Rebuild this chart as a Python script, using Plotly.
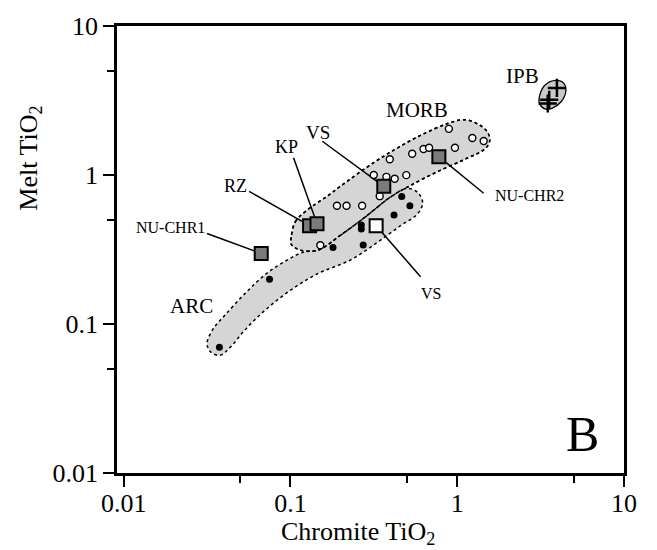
import math
import plotly.graph_objects as go

# ---------------- data ----------------
# MORB glass/chromite pairs (open circles)
morb_x = [0.891, 1.232, 1.441, 0.969, 0.628, 0.678, 0.537, 0.394, 0.316, 0.376, 0.422, 0.495, 0.343, 0.190, 0.217, 0.269, 0.151]
morb_y = [2.04, 1.772, 1.692, 1.522, 1.493, 1.522, 1.390, 1.276, 1.00, 0.972, 0.943, 0.998, 0.721, 0.622, 0.622, 0.622, 0.3375]

# ARC pairs (filled circles)
arc_x = [0.465, 0.520, 0.418, 0.266, 0.266, 0.273, 0.180, 0.0749, 0.0375]
arc_y = [0.717, 0.622, 0.538, 0.461, 0.434, 0.339, 0.326, 0.200, 0.0697]

# IPB (crosses)
ipb_x = [3.96, 3.56, 3.49]
ipb_y = [3.84, 3.20, 3.02]

# Calculated melts (grey squares)
sample_names = ["NU-CHR1", "RZ", "KP", "VS", "NU-CHR2"]
sample_x = [0.0668, 0.1302, 0.1443, 0.3627, 0.776]
sample_y = [0.2977, 0.457, 0.4713, 0.839, 1.328]

# VS (white square)
vs2_x = [0.3264]
vs2_y = [0.457]

# Field outlines
morb_field_x = [0.101, 0.107, 0.124, 0.166, 0.214, 0.302, 0.426, 0.603, 0.876, 1.108, 1.345, 1.523,
                1.565, 1.461, 1.123, 0.762, 0.525, 0.398, 0.282, 0.199, 0.147, 0.115, 0.101, 0.101]
morb_field_y = [0.381, 0.486, 0.574, 0.721, 0.891, 1.171, 1.493, 1.845, 2.214, 2.352, 2.181, 1.931,
                1.685, 1.493, 1.282, 1.053, 0.851, 0.710, 0.524, 0.393, 0.313, 0.313, 0.343, 0.381]

arc_field_x = [0.147, 0.199, 0.282, 0.398, 0.503, 0.586, 0.620, 0.578, 0.457, 0.332, 0.229, 0.145, 0.0997,
               0.0706, 0.0535, 0.0435, 0.0379, 0.0334, 0.0316, 0.0348, 0.0406, 0.0535, 0.0716, 0.0957, 0.1193, 0.147]
arc_field_y = [0.313, 0.393, 0.524, 0.710, 0.814, 0.754, 0.648, 0.548, 0.457, 0.353, 0.269, 0.217, 0.168,
               0.124, 0.0916, 0.0697, 0.0617, 0.0646, 0.0741, 0.0944, 0.115, 0.1605, 0.2174, 0.2689, 0.3034, 0.313]

ipb_field_x = [3.902, 4.358, 4.481, 4.182, 3.692, 3.352, 3.107, 3.128, 3.352, 3.902]
ipb_field_y = [4.315, 4.123, 3.651, 3.091, 2.801, 2.780, 3.045, 3.437, 4.001, 4.315]

# Leader-line label ends (data units)
leader_x = [0.0316, 0.0565, 0.1044, 0.1553, 1.441]
leader_y = [0.4047, 0.777, 1.308, 1.685, 0.754]
vs2_leader_x = [0.6026]
vs2_leader_y = [0.2077]

# ---------------- figure ----------------
FONT = "Liberation Serif, Times New Roman, serif"
FIELD_FILL = "#d5d5d5"

fig = go.Figure()

# fields
fig.add_trace(go.Scatter(x=morb_field_x, y=morb_field_y, mode="lines", fill="toself",
                         fillcolor=FIELD_FILL, line=dict(color="black", width=1.5, dash="dot", shape="spline"),
                         hoverinfo="skip"))
fig.add_trace(go.Scatter(x=arc_field_x, y=arc_field_y, mode="lines", fill="toself",
                         fillcolor=FIELD_FILL, line=dict(color="black", width=1.5, dash="dot", shape="spline"),
                         hoverinfo="skip"))
# re-draw MORB outline on top so both dotted outlines are visible
fig.add_trace(go.Scatter(x=morb_field_x, y=morb_field_y, mode="lines",
                         line=dict(color="black", width=1.5, dash="dot", shape="spline"),
                         hoverinfo="skip"))
fig.add_trace(go.Scatter(x=ipb_field_x, y=ipb_field_y, mode="lines", fill="toself",
                         fillcolor="#cacaca", line=dict(color="black", width=1.3, shape="spline"),
                         hoverinfo="skip"))

# leader lines
for i in range(len(sample_x)):
    fig.add_trace(go.Scatter(x=[leader_x[i], sample_x[i]], y=[leader_y[i], sample_y[i]], mode="lines",
                             line=dict(color="black", width=1.5), hoverinfo="skip"))
fig.add_trace(go.Scatter(x=[vs2_leader_x[0], vs2_x[0]], y=[vs2_leader_y[0], vs2_y[0]], mode="lines",
                         line=dict(color="black", width=1.5), hoverinfo="skip"))

# points
fig.add_trace(go.Scatter(x=morb_x, y=morb_y, mode="markers",
                         marker=dict(symbol="circle", size=7, color="white", line=dict(color="black", width=1.4))))
fig.add_trace(go.Scatter(x=arc_x, y=arc_y, mode="markers",
                         marker=dict(symbol="circle", size=7, color="black", line=dict(color="black", width=0))))
fig.add_trace(go.Scatter(x=ipb_x, y=ipb_y, mode="markers",
                         marker=dict(symbol="cross-thin-open", size=13, color="black", line=dict(color="black", width=2.5))))
fig.add_trace(go.Scatter(x=sample_x, y=sample_y, mode="markers", text=sample_names,
                         marker=dict(symbol="square", size=13, color="#7b7b7b", line=dict(color="black", width=2))))
fig.add_trace(go.Scatter(x=vs2_x, y=vs2_y, mode="markers",
                         marker=dict(symbol="square", size=13, color="white", line=dict(color="black", width=2))))

# text labels (data units)
labels = [
    ("MORB", 0.570, 2.738, 21, "center"),
    ("IPB", 2.448, 4.60, 21, "center"),
    ("VS", 0.1459, 1.937, 19, "center"),
    ("KP", 0.0953, 1.543, 18, "center"),
    ("RZ", 0.0466, 0.841, 18, "center"),
    ("NU-CHR1", 0.01917, 0.4468, 16, "center"),
    ("NU-CHR2", 1.632, 0.724, 16, "left"),
    ("ARC", 0.0255, 0.1318, 21, "center"),
    ("VS", 0.692, 0.1605, 16, "center"),
]
for txt, lx, ly, fs, anchor in labels:
    fig.add_annotation(x=math.log10(lx), y=math.log10(ly), xref="x", yref="y", text=txt,
                       showarrow=False, xanchor=anchor, yanchor="middle",
                       font=dict(family=FONT, size=fs, color="black"))

fig.add_annotation(x=0.919, y=0.088, xref="paper", yref="paper", text="B", showarrow=False,
                   xanchor="center", yanchor="middle", font=dict(family=FONT, size=50, color="black"))

# axis titles
fig.add_annotation(x=0.475, y=-0.135, xref="paper", yref="paper", text="Chromite TiO<sub>2</sub>",
                   showarrow=False, xanchor="center", yanchor="middle",
                   font=dict(family=FONT, size=26, color="black"))
fig.add_annotation(x=-0.172, y=0.705, xref="paper", yref="paper", text="Melt TiO<sub>2</sub>",
                   showarrow=False, xanchor="center", yanchor="middle", textangle=-90,
                   font=dict(family=FONT, size=26, color="black"))

axis_common = dict(
    type="log", showgrid=False, zeroline=False,
    showline=True, linecolor="black", linewidth=2.5, mirror=True,
    ticks="outside", ticklen=11, tickwidth=2.2, tickcolor="black",
    tickmode="array", tickvals=[0.01, 0.1, 1, 10], ticktext=["0.01", "0.1", "1", "10"],
    tickfont=dict(family=FONT, size=26, color="black"),
    minor=dict(tickmode="array", tickvals=[0.05, 0.5, 5], ticks="outside", ticklen=7,
               tickwidth=2.2, tickcolor="black", showgrid=False),
)

fig.update_xaxes(range=[-2.04, 1], ticklabelstandoff=-6, **axis_common)
fig.update_yaxes(range=[-2, 1], **axis_common)

fig.update_layout(
    width=657, height=550,
    margin=dict(l=117, r=33, t=18, b=77),
    paper_bgcolor="white", plot_bgcolor="white",
    showlegend=False,
    font=dict(family=FONT, color="black"),
)

fig.write_html("out.html")
